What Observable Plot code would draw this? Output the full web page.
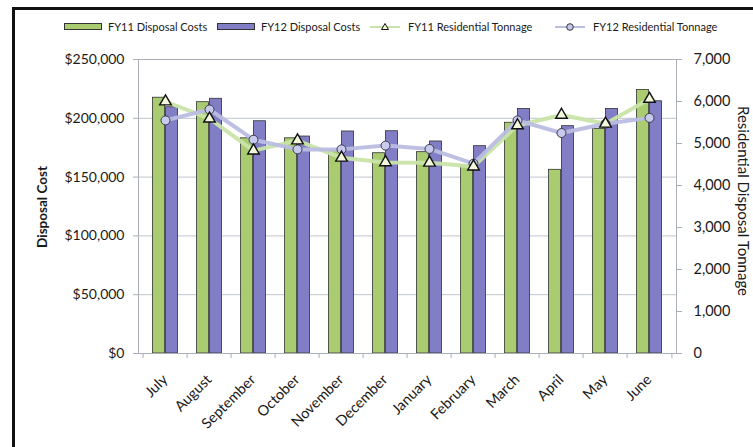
<!DOCTYPE html>
<html>
<head>
<meta charset="utf-8">
<script src="https://cdn.jsdelivr.net/npm/d3@7"></script>
<script src="https://cdn.jsdelivr.net/npm/@observablehq/plot@0.6"></script>
<style>
  html, body { margin: 0; padding: 0; background: #fff; }
  body { width: 753px; height: 447px; overflow: hidden; font-family: Lato, "Noto Sans", sans-serif; color: #1a1a1a; }
  #wrap { position: relative; width: 753px; height: 447px; }
  #frame { position: absolute; left: 12px; top: 7px; width: 760px; height: 460px; border-left: 3px solid #111; border-top: 3px solid #111; box-sizing: border-box; }
  #chart { position: absolute; left: 0; top: 0; }
  .leg { position: absolute; top: 20px; font-size: 11px; line-height: 14px; white-space: nowrap; }
  .sw { position: absolute; top: 23px; width: 38px; height: 7px; box-sizing: border-box; border: 1px solid #333; }
  .mk { position: absolute; top: 20px; }
  .ttl { position: absolute; font-size: 13px; white-space: nowrap; transform-origin: center center; }
</style>
</head>
<body>
<div id="wrap">
  <div id="frame"></div>
  <div id="chart"></div>
</div>
<script>
// ---- data ----
const months = ["July","August","September","October","November","December","January","February","March","April","May","June"];
const fy11Costs = [217500, 213700, 183000, 183000, 172600, 170300, 171200, 159900, 196200, 156200, 191000, 224000];
const fy12Costs = [209400, 216600, 197500, 184500, 188800, 189000, 180300, 176300, 208000, 193300, 208000, 214500];
const fy11Tons  = [6000, 5590, 4830, 5070, 4660, 4550, 4540, 4450, 5430, 5680, 5470, 6060];
const fy12Tons  = [5550, 5810, 5090, 4860, 4860, 4950, 4870, 4520, 5550, 5250, 5470, 5610];
const costTicks = [0, 50000, 100000, 150000, 200000, 250000];
const tonTicks  = [0, 1000, 2000, 3000, 4000, 5000, 6000, 7000];
const seriesNames = ["FY11 Disposal Costs", "FY12 Disposal Costs", "FY11 Residential Tonnage", "FY12 Residential Tonnage"];

const table = months.map((m, i) => ({month: m, c11: fy11Costs[i], c12: fy12Costs[i], t11: fy11Tons[i], t12: fy12Tons[i]}));
const k = 250000 / 7000; // tonnage -> cost axis

const W = 753, H = 447, mL = 138, mR = 77, mT = 59, mB = 94;
const step = (W - mL - mR) / months.length;
const barW = 13, side = (step - 2 * barW) / 2;

const green = "#a8cc6f", purple = "#817ec5", barStroke = "#333";

const chart = Plot.plot({
  width: W, height: H,
  marginLeft: mL, marginRight: mR, marginTop: mT, marginBottom: mB,
  style: {fontFamily: "Lato, 'Noto Sans', sans-serif", color: "#1a1a1a", background: "transparent"},
  x: {type: "band", domain: months, padding: 0, axis: null},
  y: {domain: [0, 250000], axis: null},
  marks: [
    Plot.gridY(costTicks, {stroke: "#bfc4cd", strokeOpacity: 1}),
    Plot.barY(table, {x: "month", y: "c11", fill: green, stroke: barStroke, strokeWidth: 0.8, insetLeft: side, insetRight: side + barW}),
    Plot.barY(table, {x: "month", y: "c12", fill: purple, stroke: barStroke, strokeWidth: 0.8, insetLeft: side + barW, insetRight: side}),
    Plot.frame({stroke: "#a9aeb8"}),
    Plot.ruleX(months, {x: d => d, dx: -step / 2, y1: 0, y2: 0, insetBottom: -5, stroke: "#a9aeb8"}),
    Plot.ruleX([months[months.length - 1]], {x: d => d, dx: step / 2, y1: 0, y2: 0, insetBottom: -5, stroke: "#a9aeb8"}),
    Plot.axisY({anchor: "left", ticks: costTicks, tickFormat: d => "$" + d3.format(",")(d), tickSize: 5, tickPadding: 9, fontSize: 14, stroke: "#a9aeb8", fill: "#1a1a1a", label: null}),
    Plot.axisY({anchor: "right", ticks: tonTicks.map(t => t * k), tickFormat: d => d3.format(",")(Math.round(d / k)), tickSize: 5, tickPadding: 12, fontSize: 14.5, stroke: "#a9aeb8", fill: "#1a1a1a", label: null}),
    Plot.line(table, {x: "month", y: d => d.t11 * k, stroke: "#c9e4a9", strokeWidth: 4, strokeOpacity: 0.95}),
    Plot.line(table, {x: "month", y: d => d.t12 * k, stroke: "#b9bde2", strokeWidth: 4, strokeOpacity: 0.95}),
    Plot.dot(table, {x: "month", y: d => d.t12 * k, r: 4.5, fill: "#c7caed", stroke: "#3a3a4a", strokeWidth: 1}),
    Plot.dot(table, {x: "month", y: d => d.t11 * k, symbol: "triangle", r: 4.3, fill: "#f4f8dd", stroke: "#111", strokeWidth: 1.4}),
    Plot.text(months, {x: d => d, frameAnchor: "bottom", dy: 27, dx: 3, rotate: -45, textAnchor: "end", fontSize: 14.5, fill: "#1a1a1a"})
  ]
});
document.getElementById("chart").appendChild(chart);

// ---- legend & titles ----
const wrap = document.getElementById("wrap");
function add(html) { wrap.insertAdjacentHTML("beforeend", html); }
add(`<div class="sw" style="left:64px;background:${green}"></div>`);
add(`<div class="leg" style="left:108px">${seriesNames[0]}</div>`);
add(`<div class="sw" style="left:217px;background:${purple}"></div>`);
add(`<div class="leg" style="left:261px">${seriesNames[1]}</div>`);
add(`<svg class="mk" style="left:370px" width="30" height="14"><line x1="0" y1="7" x2="30" y2="7" stroke="#c9e4a9" stroke-width="2"/><path d="M15,3.5 L18.5,9.5 L11.5,9.5 Z" fill="#f4f8dd" stroke="#111" stroke-width="1"/></svg>`);
add(`<div class="leg" style="left:408px">${seriesNames[2]}</div>`);
add(`<svg class="mk" style="left:555px" width="30" height="14"><line x1="0" y1="7" x2="30" y2="7" stroke="#b9bde2" stroke-width="2"/><circle cx="15" cy="7" r="3.3" fill="#c7caed" stroke="#333" stroke-width="1"/></svg>`);
add(`<div class="leg" style="left:593px">${seriesNames[3]}</div>`);

add(`<div class="ttl" id="lt" style="font-weight:bold;font-size:13.5px">Disposal Cost</div>`);
add(`<div class="ttl" id="rt" style="font-size:15px">Residential Disposal Tonnage</div>`);
function place(id, cx, cy, rot) {
  const el = document.getElementById(id);
  const w = el.offsetWidth, h = el.offsetHeight;
  el.style.left = (cx - w / 2) + "px";
  el.style.top = (cy - h / 2) + "px";
  el.style.transform = `rotate(${rot}deg)`;
}
place("lt", 42, 207, -90);
place("rt", 744, 201, 90);
</script>
</body>
</html>
